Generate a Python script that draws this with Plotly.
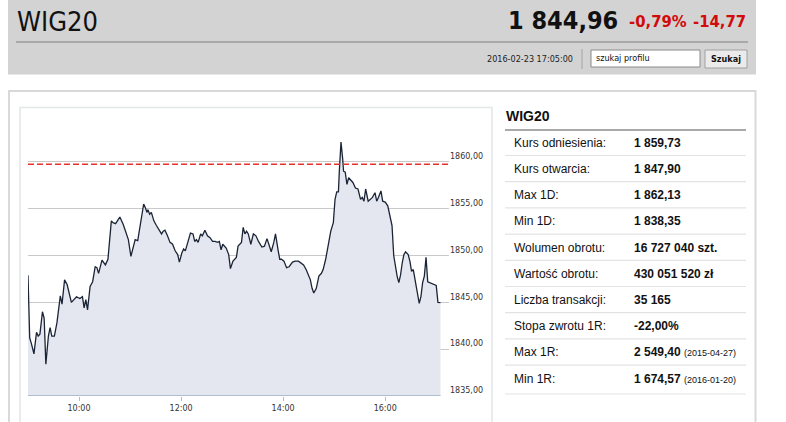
import plotly.graph_objects as go

W, H = 786, 422
DAY = "2016-02-23 "

# ---- data ----
times = ["09:00","09:02","09:04","09:07","09:10","09:12","09:14","09:17","09:19","09:21",
         "09:24","09:26","09:28","09:31","09:34","09:38","09:40","09:43","09:46","09:51",
         "09:57","10:01","10:04","10:06","10:08","10:10","10:13","10:16","10:19","10:21",
         "10:23","10:27","10:31","10:34","10:38","10:40","10:43","10:45","10:48","10:52",
         "10:55","10:58","11:01","11:04","11:06","11:09","11:12","11:16","11:18","11:20",
         "11:21","11:23","11:25","11:28","11:31","11:34","11:37","11:39","11:41","11:44",
         "11:47","11:50","11:53","11:56","11:58","12:01","12:03","12:05","12:07","12:11",
         "12:14","12:16","12:18","12:20","12:23","12:25","12:28","12:31","12:34","12:37",
         "12:40","12:43","12:45","12:47","12:49","12:53","12:56","12:58","13:01","13:05",
         "13:07","13:09","13:11","13:13","13:15","13:17","13:19","13:22","13:25","13:28",
         "13:31","13:35","13:38","13:41","13:43","13:46","13:49","13:51","13:54","13:56",
         "13:58","14:01","14:04","14:07","14:11","14:14","14:18","14:21","14:24","14:27",
         "14:30","14:32","14:34","14:36","14:39","14:42","14:45","14:47","14:50","14:53",
         "14:56","14:59","15:01","15:03","15:05","15:06","15:08","15:10","15:11","15:13",
         "15:15","15:17","15:19","15:22","15:25","15:28","15:31","15:33","15:35","15:37",
         "15:40","15:42","15:45","15:48","15:50","15:52","15:55","15:57","16:00","16:03",
         "16:06","16:08","16:10","16:12","16:14","16:16","16:18","16:20","16:22","16:24",
         "16:27","16:29","16:31","16:33","16:35","16:36","16:38","16:40","16:42","16:44",
         "16:46","16:48","16:50","16:53","16:56","17:00","17:02","17:05"]
values = [1847.9,1841.2,1840.6,1839.5,1841.8,1841.4,1841.6,1844.0,1843.3,1838.4,
          1841.4,1842.3,1841.4,1841.4,1842.8,1845.7,1844.8,1847.4,1846.9,1845.0,
          1845.6,1845.4,1845.6,1844.4,1845.3,1844.2,1846.7,1847.2,1848.8,1848.7,
          1848.1,1849.5,1849.0,1849.6,1853.7,1853.5,1853.4,1853.7,1854.1,1853.3,
          1852.6,1851.7,1849.9,1851.2,1851.7,1851.6,1853.2,1855.5,1855.1,1854.6,
          1854.9,1854.4,1854.6,1853.7,1853.2,1852.8,1852.3,1852.6,1852.7,1852.1,
          1851.4,1851.2,1850.5,1850.1,1849.3,1850.3,1850.7,1850.5,1851.2,1852.4,
          1852.3,1851.5,1851.7,1851.4,1852.3,1852.1,1852.7,1852.1,1851.9,1851.5,
          1851.5,1851.4,1851.5,1850.6,1851.2,1850.8,1850.1,1848.6,1849.4,1849.8,
          1851.0,1851.2,1851.4,1853.0,1852.3,1852.6,1852.3,1851.2,1852.3,1852.1,
          1851.5,1850.9,1851.0,1851.8,1851.2,1850.4,1851.4,1852.3,1850.6,1849.6,
          1849.6,1849.4,1848.7,1848.8,1849.3,1849.4,1849.4,1849.2,1849.0,1848.5,
          1847.8,1847.4,1846.5,1846.0,1846.5,1847.8,1848.1,1848.5,1849.6,1851.0,
          1852.6,1853.5,1856.0,1856.8,1856.8,1858.9,1862.1,1860.3,1859.0,1858.9,
          1857.6,1858.3,1858.1,1857.8,1857.2,1857.1,1856.0,1856.2,1855.8,1857.1,
          1855.8,1856.0,1856.2,1856.7,1855.8,1856.2,1856.9,1855.8,1855.7,1855.3,
          1854.2,1853.2,1850.0,1848.7,1847.8,1847.1,1847.9,1849.2,1850.1,1850.4,
          1850.1,1849.4,1848.3,1848.5,1847.4,1846.9,1845.6,1844.9,1845.6,1847.1,
          1847.8,1849.8,1847.2,1847.1,1847.0,1846.8,1845.0,1844.96]

reference = 1859.73
x_ticks = ["10:00", "12:00", "14:00", "16:00"]
y_ticks = [1835, 1840, 1845, 1850, 1855, 1860, 1865]
y_ticktext = ["1835,00", "1840,00", "1845,00", "1850,00", "1855,00", "1860,00", ""]

title = "WIG20"
last_price = "1 844,96"
change_pct = "-0,79%"
change_abs = "-14,77"
timestamp = "2016-02-23 17:05:00"

table_labels = ["Kurs odniesienia:", "Kurs otwarcia:", "Max 1D:", "Min 1D:",
                "Wolumen obrotu:", "Wartość obrotu:", "Liczba transakcji:",
                "Stopa zwrotu 1R:", "Max 1R:", "Min 1R:"]
table_values = ["1 859,73", "1 847,90", "1 862,13", "1 838,35", "16 727 040 szt.",
                "430 051 520 zł", "35 165", "-22,00%", "2 549,40", "1 674,57"]
table_notes = ["", "", "", "", "", "", "", "", "(2015-04-27)", "(2016-01-20)"]

# ---- helpers (pixel -> paper) ----
def X(px):
    return px / W

def Y(py):
    return 1 - py / H

xs = [DAY + t for t in times]

fig = go.Figure()
fig.add_trace(go.Scatter(
    x=xs, y=values, mode="lines",
    line=dict(color="#1b2436", width=1.3),
    fill="tozeroy", fillcolor="#e4e7ef",
    hoverinfo="skip", showlegend=False))

shapes = []
# header
shapes.append(dict(type="rect", xref="paper", yref="paper", x0=X(8), x1=X(756), y0=Y(0), y1=Y(74.5),
                   fillcolor="#d3d3d3", line=dict(width=0), layer="below"))
shapes.append(dict(type="line", xref="paper", yref="paper", x0=X(16), x1=X(748), y0=Y(42), y1=Y(42),
                   line=dict(color="#a9a9a9", width=2)))
shapes.append(dict(type="line", xref="paper", yref="paper", x0=X(582), x1=X(582), y0=Y(49), y1=Y(69),
                   line=dict(color="#a5a5a5", width=1)))
shapes.append(dict(type="rect", xref="paper", yref="paper", x0=X(591), x1=X(700), y0=Y(50), y1=Y(67),
                   fillcolor="#ffffff", line=dict(color="#8a8a8a", width=1)))
shapes.append(dict(type="rect", xref="paper", yref="paper", x0=X(705), x1=X(747), y0=Y(50), y1=Y(68),
                   fillcolor="#ebebeb", line=dict(color="#a0a0a0", width=1)))
# outer box and inner chart frame
shapes.append(dict(type="rect", xref="paper", yref="paper", x0=X(9), x1=X(755.5), y0=Y(91), y1=Y(430),
                   line=dict(color="#d9d9d9", width=2), layer="below"))
shapes.append(dict(type="rect", xref="paper", yref="paper", x0=X(20), x1=X(492), y0=Y(107.5), y1=Y(430),
                   line=dict(color="#e2e6e6", width=1.5), layer="below"))
# reference dashed line
shapes.append(dict(type="line", xref="paper", yref="y", x0=X(28), x1=X(449), y0=reference, y1=reference,
                   line=dict(color="#e8312c", width=1.5, dash="6px,3px")))
# bottom axis line (only under data)
shapes.append(dict(type="line", xref="x", yref="y", x0=xs[0], x1=xs[-1], y0=y_ticks[0], y1=y_ticks[0],
                   line=dict(color="#aebdd2", width=2)))
# table lines
shapes.append(dict(type="line", xref="paper", yref="paper", x0=X(505), x1=X(746), y0=Y(130), y1=Y(130),
                   line=dict(color="#555555", width=1.2)))
row0, step = 142.7, 26.2
for i in range(len(table_labels)):
    yl = row0 + i * step + 12.8 if i < len(table_labels) - 1 else 394
    shapes.append(dict(type="line", xref="paper", yref="paper", x0=X(505), x1=X(746), y0=Y(yl), y1=Y(yl),
                       line=dict(color="#e3e3e3", width=1.2)))

ann = []
NARROW = "DejaVu Sans Condensed"
ARIAL = "Liberation Sans"
ann.append(dict(x=X(15), y=Y(21), text=title, xanchor="left", yanchor="middle",
                font=dict(family=NARROW, size=27, color="#111111")))
ann.append(dict(x=X(620), y=Y(20), text="<b>" + last_price + "</b>", xanchor="right", yanchor="middle",
                font=dict(family=NARROW, size=25, color="#111111")))
ann.append(dict(x=X(627), y=Y(22), text="<b>" + change_pct + "</b>", xanchor="left", yanchor="middle",
                font=dict(family=NARROW, size=16.5, color="#d10a0a")))
ann.append(dict(x=X(748), y=Y(22), text="<b>" + change_abs + "</b>", xanchor="right", yanchor="middle",
                font=dict(family=NARROW, size=16.5, color="#d10a0a")))
ann.append(dict(x=X(575), y=Y(58.5), text=timestamp, xanchor="right", yanchor="middle",
                font=dict(family=NARROW, size=9, color="#222222")))
ann.append(dict(x=X(594), y=Y(58), text="szukaj profilu", xanchor="left", yanchor="middle",
                font=dict(family=NARROW, size=9, color="#111111")))
ann.append(dict(x=X(726), y=Y(59), text="<b>Szukaj</b>", xanchor="center", yanchor="middle",
                font=dict(family=NARROW, size=9, color="#111111")))
# table
ann.append(dict(x=X(504), y=Y(116), text="<b>" + title + "</b>", xanchor="left", yanchor="middle",
                font=dict(family=ARIAL, size=14, color="#111111")))
for i, (lab, val, note) in enumerate(zip(table_labels, table_values, table_notes)):
    yy = Y(row0 + i * step)
    ann.append(dict(x=X(512), y=yy, text=lab, xanchor="left", yanchor="middle",
                    font=dict(family=ARIAL, size=12, color="#111111")))
    txt = "<b>" + val + "</b>"
    if note:
        txt += " <span style='font-size:9px'>" + note + "</span>"
    ann.append(dict(x=X(632), y=yy, text=txt, xanchor="left", yanchor="middle",
                    font=dict(family=ARIAL, size=12, color="#111111")))
for a in ann:
    a.update(xref="paper", yref="paper", showarrow=False)

fig.update_layout(
    width=W, height=H,
    margin=dict(l=0, r=0, t=0, b=0),
    paper_bgcolor="#ffffff", plot_bgcolor="#ffffff",
    shapes=shapes, annotations=ann, showlegend=False,
    xaxis=dict(domain=[X(28), X(449)], range=[DAY + "09:00", DAY + "17:15"], type="date",
               tickvals=[DAY + t for t in x_ticks], ticktext=x_ticks,
               showgrid=False, zeroline=False, showline=False,
               ticks="outside", ticklen=4, tickcolor="#aebdd2", tickwidth=1,
               tickfont=dict(family="DejaVu Sans", size=8, color="#333333")),
    yaxis=dict(domain=[Y(396), Y(115)], range=[y_ticks[0], y_ticks[-1]], side="right",
               tickvals=y_ticks, ticktext=y_ticktext, ticks="",
               ticklabelposition="outside top",
               showgrid=True, gridcolor="#c9c9c9", gridwidth=1,
               zeroline=False, showline=False,
               tickfont=dict(family="DejaVu Sans", size=8, color="#333333")),
)

fig.write_html("out.html", config={"displayModeBar": False},
               post_script="document.body.style.margin='0';")
